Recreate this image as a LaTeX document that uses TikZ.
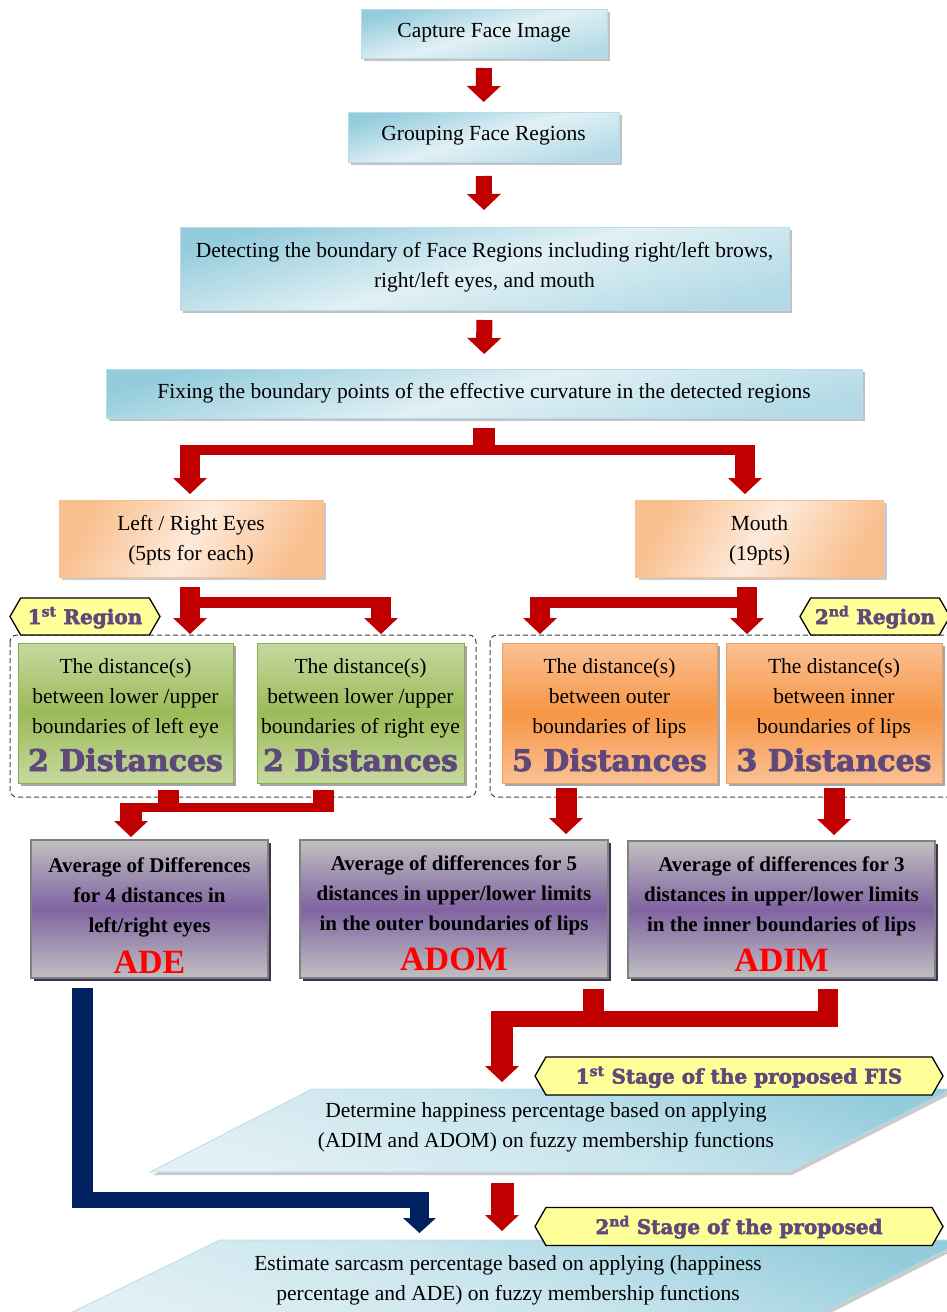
\documentclass[tikz,border=0pt]{standalone}
\usepackage{fontspec}
\setmainfont{Liberation Serif}
\newfontfamily\slabfont{DejaVu Serif}[BoldFeatures={FakeBold=2.5}]
\usetikzlibrary{arrows.meta,shapes.symbols,shadows}
\definecolor{arrowred}{HTML}{C00000}
\definecolor{navyA}{HTML}{002060}
\definecolor{blueD}{HTML}{94CCDC}
\definecolor{blueL}{HTML}{E1F0F5}
\definecolor{blueB}{HTML}{B6DDE8}
\definecolor{peachD}{HTML}{F9C08F}
\definecolor{peachL}{HTML}{FDEADB}
\definecolor{greenL}{HTML}{C6D9A0}
\definecolor{greenM}{HTML}{9BBB59}
\definecolor{greenB}{HTML}{8AAE4A}
\definecolor{orangeL}{HTML}{FAC194}
\definecolor{orangeM}{HTML}{F79646}
\definecolor{orangeB}{HTML}{E9A064}
\definecolor{grayL}{HTML}{C0C0C0}
\definecolor{purpM}{HTML}{8064A2}
\definecolor{purpS}{HTML}{403152}
\definecolor{purpT}{HTML}{5F497A}
\definecolor{yellowL}{HTML}{FFFF99}
\definecolor{adered}{HTML}{FF0000}
\newcommand{\boxtxt}[4]{\begin{minipage}[c][#2][t]{#1}\centering\rule{0pt}{#3}#4\par\end{minipage}}
\newcommand{\distfont}{\slabfont\bfseries\fontsize{30}{30}\selectfont\color{purpT}}
\newcommand{\adefont}{\bfseries\fontsize{34}{30}\selectfont\color{adered}}
\tikzset{
  base/.style={inner sep=0pt, outer sep=0pt, font=\fontsize{21.5}{30}\selectfont},
  bluebox/.style={base, draw=blueB, line width=0.8pt, top color=blueD, bottom color=blueD!60!blueL, middle color=blueL, shading angle=15,
    drop shadow={shadow xshift=3pt, shadow yshift=-3pt, fill=black!40, opacity=0.6}},
  peachbox/.style={base, draw=peachD, line width=0.8pt, top color=peachD, bottom color=peachD, middle color=peachL, shading angle=60,
    drop shadow={shadow xshift=3pt, shadow yshift=-3pt, fill=black!35, opacity=0.6}},
  greenbox/.style={base, draw=greenB, line width=1pt, top color=greenL, bottom color=greenL, middle color=greenM,
    drop shadow={shadow xshift=3pt, shadow yshift=-3pt, fill=black!50, opacity=0.7}},
  orangebox/.style={base, draw=orangeB, line width=1pt, top color=orangeL, bottom color=orangeL, middle color=orangeM,
    drop shadow={shadow xshift=3pt, shadow yshift=-3pt, fill=black!50, opacity=0.7}},
  gpbox/.style={base, font=\fontsize{21}{30}\selectfont\bfseries, draw=black!50, line width=1.2pt, top color=grayL, bottom color=grayL, middle color=purpM,
    drop shadow={shadow xshift=3pt, shadow yshift=-3pt, fill=purpS, opacity=1}},
  parabox/.style={draw=blueB, line width=0.8pt, top color=blueD, bottom color=blueL, middle color=blueL!70!blueD, shading angle=-20,
    drop shadow={shadow xshift=3pt, shadow yshift=-3pt, fill=black!35, opacity=0.6}},
  grpframe/.style={draw=black!75, line width=1pt, dash pattern=on 5pt off 3pt, rounded corners=7pt},
  regtag/.style={signal, signal to=west and east, signal pointer angle=120, draw=black, line width=1.3pt, fill=yellowL,
    inner sep=0pt, minimum height=37pt, text=purpT, text height=15pt, text depth=0pt,
    font=\slabfont\bfseries\fontsize{20}{20}\selectfont},
  redbar/.style={draw=arrowred, line width=#1},
  navybar/.style={draw=navyA, line width=#1},
  redfat/.style={draw=arrowred, line width=#1, -{Triangle[width=34pt,length=16pt,line width=0pt]}},
  navyfat/.style={draw=navyA, line width=#1, -{Triangle[width=33pt,length=15pt,line width=0pt]}},
}
\begin{document}
\begin{tikzpicture}[x=1pt,y=-1pt]
\useasboundingbox (0,0) rectangle (947,1312);

% group frames
\draw[grpframe] (10,635) rectangle (476,797);
\draw[grpframe] (490,635) rectangle (975,797);

% main flow boxes
\node[bluebox] (cap) at (484,33.5) {\boxtxt{246pt}{49pt}{28pt}{Capture Face Image}};
\node[bluebox] (grp) at (483.5,137) {\boxtxt{271pt}{50pt}{28pt}{Grouping Face Regions}};
\node[bluebox] (det) at (484.5,268.5) {\boxtxt{609pt}{83pt}{30pt}{Detecting the boundary of Face Regions including right/left brows,\\right/left eyes, and mouth}};
\node[bluebox] (fix) at (484,393.5) {\boxtxt{756pt}{49pt}{29pt}{Fixing the boundary points of the effective curvature in the detected regions}};

\node[peachbox] (eyes) at (191,538.5) {\boxtxt{264pt}{77pt}{30pt}{Left / Right Eyes\\(5pts for each)}};
\node[peachbox] (mouth) at (759.5,538.5) {\boxtxt{248pt}{77pt}{30pt}{Mouth\\(19pts)}};

\node[greenbox] (g1) at (125.5,713) {\boxtxt{215pt}{140pt}{30pt}{The distance(s)\\between lower /upper\\boundaries of left eye\\[8pt]{\distfont 2 Distances}}};
\node[greenbox] (g2) at (360.5,713) {\boxtxt{207pt}{140pt}{30pt}{The distance(s)\\between lower /upper\\boundaries of right eye\\[8pt]{\distfont 2 Distances}}};
\node[orangebox] (o1) at (609.5,713) {\boxtxt{215pt}{140pt}{30pt}{The distance(s)\\between outer\\boundaries of lips\\[8pt]{\distfont 5 Distances}}};
\node[orangebox] (o2) at (834,713) {\boxtxt{216pt}{140pt}{30pt}{The distance(s)\\between inner\\boundaries of lips\\[8pt]{\distfont 3 Distances}}};

\node[gpbox] (ade) at (149.5,909) {\boxtxt{237pt}{138pt}{32pt}{Average of Differences\\for 4 distances in\\left/right eyes\\[11pt]{\adefont ADE}}};
\node[gpbox] (adom) at (454,909) {\boxtxt{308pt}{138pt}{30pt}{Average of differences for 5\\distances in upper/lower limits\\in the outer boundaries of lips\\[10pt]{\adefont ADOM}}};
\node[gpbox] (adim) at (781.5,909.5) {\boxtxt{307pt}{137pt}{30pt}{Average of differences for 3\\distances in upper/lower limits\\in the inner boundaries of lips\\[10pt]{\adefont ADIM}}};

% parallelograms
\path[parabox] (312,1089) -- (952,1089) -- (789,1172) -- (150,1172) -- cycle;
\node[base, anchor=north] (para1) at (546,1089) {\boxtxt{520pt}{83pt}{28pt}{Determine happiness percentage based on applying\\(ADIM and ADOM) on fuzzy membership functions}};
\path[parabox] (220,1240) -- (965,1240) -- (802,1323) -- (50,1323) -- cycle;
\node[base, anchor=north] (para2) at (508,1240) {\boxtxt{560pt}{83pt}{30pt}{Estimate sarcasm percentage based on applying (happiness\\percentage and ADE) on fuzzy membership functions}};

% junction coordinates
\coordinate (fl) at (190,450);
\coordinate (fr) at (745,450);
\coordinate (eb) at (381,602.5);
\coordinate (mb) at (540,602.5);
\coordinate (gm) at (131,807.5);
\coordinate (am) at (502,1019);
\coordinate (nm) at (419.5,1200);
\coordinate (p1b) at (502,1172);
\coordinate (p2t) at (502,1240);

% straight arrows
\draw[redfat=16pt, shorten <=10pt, shorten >=10pt] (cap) -- (grp);
\draw[redfat=16pt, shorten <=14pt, shorten >=17pt] (grp) -- (det);
\draw[redfat=16pt, shorten <=10pt, shorten >=15pt] (det) -- (fix);

% branch from fix
\draw[redbar=22pt] ([yshift=-10pt]fix.south) -- ([yshift=-37pt]fix.south);
\draw[redbar=10pt] ([xshift=-10pt]fl) -- ([xshift=10pt]fr);
\draw[redfat=20pt, shorten >=6pt] ([yshift=5pt]fl) -- (fl |- eyes.north);
\draw[redfat=20pt, shorten >=6pt] ([yshift=5pt]fr) -- (fr |- mouth.north);

% eyes branch
\draw[redfat=20pt] ([xshift=-1pt,yshift=-10pt]eyes.south) -- ++(0,47);
\draw[redbar=11pt] ([xshift=-1pt,yshift=-25.5pt]eyes.south) -- ([xshift=10pt]eb);
\draw[redfat=20pt] ([yshift=5.5pt]eb) -- ++(0,37);

% mouth branch
\draw[redfat=20pt] ([xshift=-12.5pt,yshift=-10pt]mouth.south) -- ++(0,47);
\draw[redbar=11pt] ([xshift=-2.5pt,yshift=-25.5pt]mouth.south) -- ([xshift=-10pt]mb);
\draw[redfat=20pt] ([yshift=5.5pt]mb) -- ++(0,37);

% green merge to ADE
\draw[redbar=21pt] ([xshift=42.5pt,yshift=-7pt]g1.south) -- ++(0,22);
\draw[redbar=21pt] ([xshift=-37pt,yshift=-7pt]g2.south) -- ++(0,22);
\draw[redbar=9pt] ([xshift=-11pt]gm) -- ([xshift=-26.5pt]g2.south |- gm);
\draw[redfat=22pt, shorten >=3pt] ([yshift=4.5pt]gm) -- (gm |- ade.north);

% orange to ADOM / ADIM
\draw[redfat=21pt, shorten <=5pt, shorten >=6pt] ([xshift=-43.5pt]o1.south) -- ([xshift=112pt]adom.north);
\draw[redfat=21pt, shorten <=5pt, shorten >=6pt] (o2.south) -- ([xshift=52.5pt]adim.north);

% merge ADOM/ADIM to stage 1
\draw[redbar=21pt] ([xshift=139.5pt,yshift=-11pt]adom.south) -- ++(0,38);
\draw[redbar=20pt] ([xshift=46.5pt,yshift=-11pt]adim.south) -- ++(0,38);
\draw[redbar=16pt] ([xshift=-11pt]am) -- ([xshift=56.5pt]adim.south |- am);
\draw[redfat=22pt, shorten >=7pt] ([yshift=8pt]am) -- (am |- para1.north);

% navy ADE to stage 2
\draw[navybar=21pt] ([xshift=-67pt,yshift=-10pt]ade.south) -- ([xshift=-67pt]ade.south |- nm) -- ++(0,8);
\draw[navybar=16pt] ([xshift=-77.5pt]ade.south |- nm) -- ([xshift=9.5pt]nm);
\draw[navyfat=19pt, shorten >=7pt] ([yshift=8pt]nm) -- (nm |- para2.north);

% stage 1 to stage 2
\draw[redfat=23pt, shorten <=11pt, shorten >=9pt] (p1b) -- (p2t);

% tags
\node[regtag, minimum width=150pt] (reg1) at (85,616.5) {1\textsuperscript{st} Region};
\node[regtag, minimum width=150pt] (reg2) at (875,616.5) {2\textsuperscript{nd} Region};
\node[regtag, minimum width=408pt, minimum height=38pt] (st1) at (739,1076) {1\textsuperscript{st} Stage of the proposed FIS};
\node[regtag, minimum width=408pt, minimum height=38pt] (st2) at (739,1226.5) {2\textsuperscript{nd} Stage of the proposed\hspace{46pt}};
\end{tikzpicture}
\end{document}
